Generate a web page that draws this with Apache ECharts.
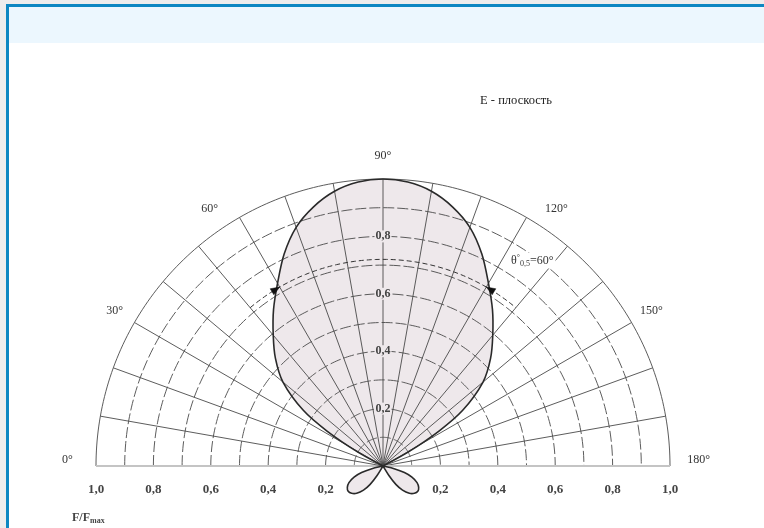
<!DOCTYPE html>
<html>
<head>
<meta charset="utf-8">
<script src="https://cdn.jsdelivr.net/npm/echarts@6/dist/echarts.min.js"></script>
<style>
  html, body { margin: 0; padding: 0; background: #ffffff; }
  #chart { width: 764px; height: 528px; }
</style>
</head>
<body>
<div id="chart"></div>
<script>
// E-plane radiation pattern: normalised field strength F/Fmax versus angle (degrees)

// angle scale labels around the half circle
const angleTicks = [0, 30, 60, 90, 120, 150, 180];
const angleTickLabels = ['0°', '30°', '60°', '90°', '120°', '150°', '180°'];

// radius scale labels along the base line and the 90° spoke
const radiusTicks = [0.2, 0.4, 0.6, 0.8, 1.0];
const radiusTickLabels = ['0,2', '0,4', '0,6', '0,8', '1,0'];
const spokeTicks = [0.2, 0.4, 0.6, 0.8];
const spokeTickLabels = ['0,2', '0,4', '0,6', '0,8'];

// polar grid
const gridRings = [0.1, 0.2, 0.3, 0.4, 0.5, 0.6, 0.7, 0.8, 0.9, 1.0];
const gridSpokes = [0, 10, 20, 30, 40, 50, 60, 70, 80, 90, 100, 110, 120, 130, 140, 150, 160, 170, 180];

// main lobe
const mainLobeAngle = [27, 29, 32, 35, 40, 45, 50, 55, 60, 65, 70, 75, 80, 85, 90, 95, 100, 105, 110, 115, 120, 125, 130, 135, 140, 145, 148, 151, 153];
const mainLobeValue = [0, 0.10, 0.23, 0.34, 0.455, 0.53, 0.595, 0.665, 0.735, 0.815, 0.885, 0.935, 0.972, 0.993, 1.0, 0.993, 0.972, 0.935, 0.885, 0.815, 0.735, 0.665, 0.595, 0.53, 0.455, 0.34, 0.23, 0.10, 0];

// back lobes below the base line
const backLobeRightAngle = [191, 194, 197, 201, 206, 211, 216, 221, 226, 231, 235, 238, 241];
const backLobeRightValue = [0, 0.04, 0.078, 0.108, 0.132, 0.145, 0.15, 0.145, 0.132, 0.108, 0.078, 0.04, 0];
const backLobeLeftAngle = [299, 302, 305, 309, 314, 319, 324, 329, 334, 339, 343, 346, 349];
const backLobeLeftValue = [0, 0.04, 0.078, 0.108, 0.132, 0.145, 0.15, 0.145, 0.132, 0.108, 0.078, 0.04, 0];

// half-power beam width marker
const beamEdges = [60, 120];
const beamArcLevel = 0.72;
const beamArcSpan = [50, 130];
const beamLabel = { text: 'θ', sub: '0,5', value: '=60°' };

const LINE = '#2a2a2a';
const GRID = '#4a4a4a';
const FILL = '#eee8eb';
const SERIF = '"Liberation Serif", "DejaVu Serif", serif';

const chart = echarts.init(document.getElementById('chart'));

function zip(angles, values) {
  return angles.map((a, i) => [values[i], a]);
}

function lobeShape(points, api, withFill) {
  const pts = [api.coord([0, points[0][1]])];
  points.forEach(p => pts.push(api.coord(p)));
  pts.push(api.coord([0, points[points.length - 1][1]]));
  return {
    type: 'polyline',
    shape: { points: pts, smooth: 0.3 },
    style: withFill
      ? { fill: FILL, stroke: 'none' }
      : { fill: 'none', stroke: LINE, lineWidth: 1.6 }
  };
}

function lobeSeries(name, points, withFill, z) {
  return {
    type: 'custom',
    name: name,
    coordinateSystem: 'polar',
    silent: true,
    z: z,
    data: points,
    renderItem: function (params, api) {
      if (params.dataIndex !== 0) return null;
      return lobeShape(points, api, withFill);
    }
  };
}

const lobes = [
  zip(mainLobeAngle, mainLobeValue),
  zip(backLobeRightAngle, backLobeRightValue),
  zip(backLobeLeftAngle, backLobeLeftValue)
];

function arcPoints(api, r, a0, a1) {
  const pts = [];
  for (let a = a0; a <= a1; a += 1) pts.push(api.coord([r, a]));
  return pts;
}

const gridSeries = {
  type: 'custom',
  coordinateSystem: 'polar',
  silent: true,
  z: 3,
  data: [[0, 0]],
  renderItem: function (params, api) {
    const children = [];
    gridRings.forEach(r => {
      children.push({
        type: 'polyline',
        shape: { points: arcPoints(api, r, 0, 180) },
        style: { fill: 'none', stroke: GRID, lineWidth: 0.9, lineDash: r === 1 ? null : [11, 3] }
      });
    });
    gridSpokes.forEach(a => {
      const p0 = api.coord([0, a]);
      const p1 = api.coord([1, a]);
      const base = a === 0 || a === 180;
      children.push({
        type: 'line',
        shape: { x1: p0[0], y1: p0[1], x2: p1[0], y2: p1[1] },
        style: { stroke: base ? '#c4c4c4' : GRID, lineWidth: base ? 2 : 0.9 }
      });
    });
    return { type: 'group', children: children };
  }
};

// arrow head on the beam-width arc, tip at the given angle, pointing towards the beam axis
function arrowHead(api, angle, towards) {
  const tip = api.coord([beamArcLevel, angle]);
  const prev = api.coord([beamArcLevel, angle - towards * 3]);
  let dx = tip[0] - prev[0], dy = tip[1] - prev[1];
  const len = Math.hypot(dx, dy);
  dx /= len; dy /= len;
  const bx = tip[0] - dx * 9, by = tip[1] - dy * 9;
  const nx = -dy * 3.5, ny = dx * 3.5;
  return {
    type: 'polygon',
    shape: { points: [tip, [bx + nx, by + ny], [bx - nx, by - ny]] },
    style: { fill: '#111', stroke: '#111', lineWidth: 0.5 }
  };
}

const beamSeries = {
  type: 'custom',
  coordinateSystem: 'polar',
  silent: true,
  z: 6,
  data: beamEdges.map(a => [beamArcLevel, a]),
  renderItem: function (params, api) {
    if (params.dataIndex !== 0) return null;
    const children = [{
      type: 'polyline',
      shape: { points: arcPoints(api, beamArcLevel, beamArcSpan[0], beamArcSpan[1]) },
      style: { fill: 'none', stroke: '#333', lineWidth: 1, lineDash: [5, 3] }
    }];
    children.push(arrowHead(api, beamEdges[0], 1));
    children.push(arrowHead(api, beamEdges[1], -1));
    const lp = api.coord([0.885, 126]);
    children.push({
      type: 'text',
      x: lp[0], y: lp[1],
      style: {
        text: '{t|' + beamLabel.text + '}{sup|°}{sub|' + beamLabel.sub + '}{t|' + beamLabel.value + '}',
        align: 'center', verticalAlign: 'middle',
        backgroundColor: '#ffffff', padding: [1, 2],
        rich: {
          t: { fontFamily: SERIF, fontSize: 12, fill: '#333' },
          sup: { fontFamily: SERIF, fontSize: 8, fill: '#333', verticalAlign: 'top', padding: [0, 0, 6, 0] },
          sub: { fontFamily: SERIF, fontSize: 8, fill: '#333', padding: [6, 0, 0, 0] }
        }
      }
    });
    return { type: 'group', children: children };
  }
};

// angular offsets of the angle captions so they sit clear of the spokes
const angleLabelShift = [0, 0, -4, 0, 4, 0, 0];

const labelSeries = {
  type: 'custom',
  coordinateSystem: 'polar',
  silent: true,
  z: 8,
  data: [[0, 0]],
  renderItem: function (params, api) {
    const children = [];
    angleTicks.forEach((a, i) => {
      const edge = a === 0 || a === 180;
      const p = api.coord([edge ? 1.1 : 1.08, a + angleLabelShift[i]]);
      children.push({
        type: 'text', x: p[0], y: p[1] - (edge ? 6 : 0),
        style: {
          text: angleTickLabels[i], align: 'center', verticalAlign: 'middle',
          fontFamily: SERIF, fontSize: 12, fill: '#333'
        }
      });
    });
    radiusTicks.forEach((r, i) => {
      [0, 180].forEach(a => {
        const p = api.coord([r, a]);
        children.push({
          type: 'text', x: p[0], y: p[1] + 24,
          style: {
            text: radiusTickLabels[i], align: 'center', verticalAlign: 'middle',
            fontFamily: SERIF, fontSize: 13, fontWeight: 'bold', fill: '#444'
          }
        });
      });
    });
    spokeTicks.forEach((r, i) => {
      const p = api.coord([r, 90]);
      children.push({
        type: 'text', x: p[0], y: p[1],
        style: {
          text: spokeTickLabels[i], align: 'center', verticalAlign: 'middle',
          fontFamily: SERIF, fontSize: 12, fontWeight: 'bold', fill: '#444',
          backgroundColor: FILL, padding: [0, 1]
        }
      });
    });
    return { type: 'group', children: children };
  }
};

const option = {
  animation: false,
  backgroundColor: '#ededed',
  graphic: [
    { type: 'rect', z: 0, shape: { x: 6, y: 4, width: 800, height: 600 }, style: { fill: '#0d87c2' } },
    { type: 'rect', z: 0, shape: { x: 9, y: 7, width: 800, height: 600 }, style: { fill: '#ffffff' } },
    { type: 'rect', z: 0, shape: { x: 9, y: 7, width: 800, height: 36 }, style: { fill: '#ecf7fe' } },
    {
      type: 'text', z: 1, x: 516, y: 101,
      style: { text: 'E - плоскость', align: 'center', verticalAlign: 'middle', fontFamily: SERIF, fontSize: 12.5, fill: '#222' }
    },
    {
      type: 'text', z: 1, x: 72, y: 518,
      style: {
        text: '{m|F/F}{s|max}', align: 'left', verticalAlign: 'middle',
        rich: {
          m: { fontFamily: SERIF, fontSize: 12, fontWeight: 'bold', fill: '#444' },
          s: { fontFamily: SERIF, fontSize: 8, fontWeight: 'bold', fill: '#444', padding: [5, 0, 0, 0] }
        }
      }
    }
  ],
  polar: { center: [383, 466], radius: 287 },
  angleAxis: {
    type: 'value', min: 0, max: 360, startAngle: 180, clockwise: true,
    axisLine: { show: false }, axisTick: { show: false }, axisLabel: { show: false }, splitLine: { show: false }
  },
  radiusAxis: {
    type: 'value', min: 0, max: 1,
    axisLine: { show: false }, axisTick: { show: false }, axisLabel: { show: false }, splitLine: { show: false }
  },
  series: [
    lobeSeries('main lobe fill', lobes[0], true, 2),
    lobeSeries('back lobe fill R', lobes[1], true, 2),
    lobeSeries('back lobe fill L', lobes[2], true, 2),
    gridSeries,
    lobeSeries('main lobe', lobes[0], false, 5),
    lobeSeries('back lobe R', lobes[1], false, 5),
    lobeSeries('back lobe L', lobes[2], false, 5),
    beamSeries,
    labelSeries
  ]
};

chart.setOption(option);
</script>
</body>
</html>
